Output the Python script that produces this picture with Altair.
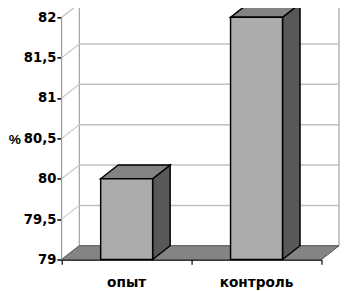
import altair as alt
import pandas as pd

# ---- data ----
categories = ["опыт", "контроль"]
values = [80.0, 82.0]
y_ticks = [79, 79.5, 80, 80.5, 81, 81.5, 82]
y_title = "%"

# ---- style / geometry constants ----
Y0, Y1 = 79, 82
DX, DY = 0.135, 0.17      # 3D depth offset (x units, y units)
BW = 0.4                  # bar width in category units
W, H = 266, 248
FONT = "DejaVu Sans"
n = len(categories)

xs = alt.Scale(domain=[0, n], nice=False, zero=False)
ys = alt.Scale(domain=[Y0, Y1], nice=False, zero=False)

axX = alt.Axis(values=list(range(n + 1)), labels=False, tickSize=5,
               tickColor="black", tickWidth=1.2, domainColor="black",
               domainWidth=1.5, grid=False, title=None)
axY = alt.Axis(values=y_ticks,
               labelExpr="replace(toString(datum.value), '.', ',')",
               labelFont=FONT, labelFontWeight="bold", labelFontSize=13.5,
               labelColor="black", labelPadding=1,
               tickSize=5, tickColor="black", tickWidth=1.5,
               domainColor="black", domainWidth=2, grid=False,
               title=y_title, titleAngle=0, titleFont="Liberation Sans",
               titleFontWeight="bold", titleFontSize=14, titleColor="black",
               titleX=-48.5, titleY=125, titleAlign="center",
               titleBaseline="middle")


def X(f):
    return alt.X(f, scale=xs, axis=axX)


def Y(f):
    return alt.Y(f, scale=ys, axis=axY)


# back wall
back = pd.DataFrame({"x": [DX], "x2": [n + DX], "y": [Y0 + DY], "y2": [Y1 + DY]})
back_layer = alt.Chart(back).mark_rect(fill="white", stroke="#8c8c8c", strokeWidth=1).encode(
    x=X("x:Q"), x2="x2", y=Y("y:Q"), y2="y2")

# side wall (vertical parallelogram)
side_wall = pd.DataFrame({"x": [0, DX], "y": [Y1, Y1 + DY], "y2": [Y0, Y0 + DY]})
side_layer = alt.Chart(side_wall).mark_area(fill="white", stroke="#a0a0a0", strokeWidth=1).encode(
    x=X("x:Q"), y=Y("y:Q"), y2="y2")

# gridlines
grid_back = pd.DataFrame({"x": [DX] * len(y_ticks), "x2": [n + DX] * len(y_ticks),
                          "y": [v + DY for v in y_ticks]})
grid_back_layer = alt.Chart(grid_back).mark_rule(color="#c0c0c0", strokeWidth=1.5).encode(
    x=X("x:Q"), x2="x2", y=Y("y:Q"))
grid_side = pd.DataFrame({"x": [0] * len(y_ticks), "x2": [DX] * len(y_ticks),
                          "y": y_ticks, "y2": [v + DY for v in y_ticks]})
grid_side_layer = alt.Chart(grid_side).mark_rule(color="#c8c8c8", strokeWidth=1.2).encode(
    x=X("x:Q"), x2="x2", y=Y("y:Q"), y2="y2")

# floor (horizontal parallelogram)
floor = pd.DataFrame({"y": [Y0, Y0 + DY], "x": [0, DX], "x2": [n, n + DX]})
floor_layer = alt.Chart(floor).mark_area(orient="horizontal", fill="#848484",
                                         stroke="#505050", strokeWidth=1).encode(
    y=Y("y:Q"), x=X("x:Q"), x2="x2")

# bars
front_rows, side_rows, top_rows = [], [], []
for i, (c, v) in enumerate(zip(categories, values)):
    left = i + 0.5 - BW / 2
    right = left + BW
    front_rows.append({"id": c, "x": left, "x2": right, "y": v, "y2": Y0})
    side_rows.append({"id": c, "x": right, "y": v, "y2": Y0})
    side_rows.append({"id": c, "x": right + DX, "y": v + DY, "y2": Y0 + DY})
    top_rows.append({"id": c, "y": v, "x": left, "x2": right})
    top_rows.append({"id": c, "y": v + DY, "x": left + DX, "x2": right + DX})

side_bar = alt.Chart(pd.DataFrame(side_rows)).mark_area(
    fill="#585858", stroke="black", strokeWidth=1.5, strokeJoin="miter").encode(
    x=X("x:Q"), y=Y("y:Q"), y2="y2", detail="id:N")
top_bar = alt.Chart(pd.DataFrame(top_rows)).mark_area(
    orient="horizontal", fill="#838383", stroke="black", strokeWidth=1.5, strokeJoin="miter").encode(
    y=Y("y:Q"), x=X("x:Q"), x2="x2", detail="id:N")
front_bar = alt.Chart(pd.DataFrame(front_rows)).mark_rect(
    fill="#acacac", stroke="black", strokeWidth=1.5).encode(
    x=X("x:Q"), x2="x2", y=Y("y:Q"), y2="y2")

# category labels
lab = pd.DataFrame({"x": [i + 0.5 for i in range(n)], "t": categories})
label_layer = alt.Chart(lab).mark_text(font=FONT, fontWeight="bold", fontSize=14,
                                       color="black", baseline="middle").encode(
    x=X("x:Q"), y=alt.value(H + 24), text="t:N")

chart = alt.layer(back_layer, side_layer, grid_back_layer, grid_side_layer, floor_layer,
                  side_bar, top_bar, front_bar, label_layer).properties(
    width=W, height=H,
    autosize=alt.AutoSizeParams(type="none"),
    padding={"left": 55, "top": 6, "right": 20, "bottom": 40},
).configure_view(stroke=None).configure(background="white")

chart.save("out.html", embed_options={"renderer": "svg", "actions": False})
